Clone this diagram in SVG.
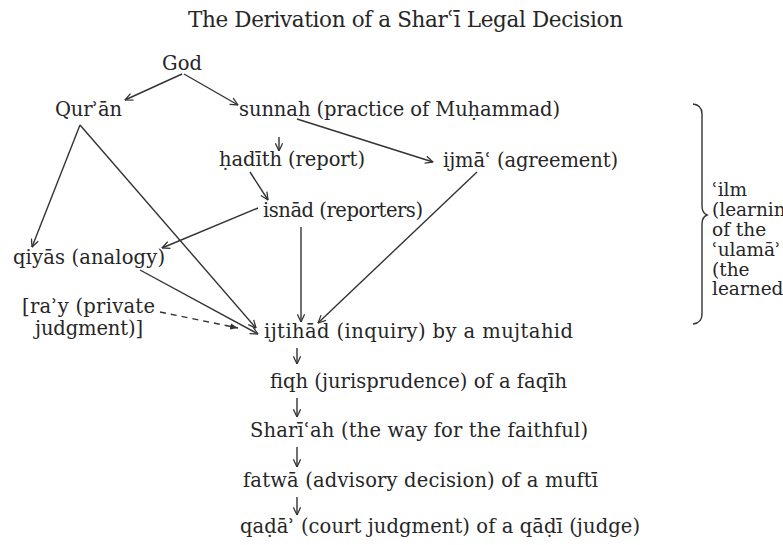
<svg xmlns="http://www.w3.org/2000/svg" width="783" height="545" viewBox="0 0 783 545">
<style>
text{font-family:"DejaVu Serif","Liberation Serif",serif;font-size:19.5px;fill:#262626}
.t{font-size:21.5px}
.s{font-size:18.5px}
.c{fill:none;stroke:#333;stroke-width:1.4}
.d{stroke-dasharray:6 5}
</style>
<defs>
<marker id="a" viewBox="0 0 10 10" refX="9.5" refY="5" markerWidth="9" markerHeight="9" markerUnits="userSpaceOnUse" orient="auto"><path d="M1,1 L9.5,5 L1,9" fill="none" stroke="#333" stroke-width="1.4"/></marker>
<marker id="f" viewBox="0 0 10 10" refX="10" refY="5" markerWidth="8" markerHeight="8" markerUnits="userSpaceOnUse" orient="auto"><path d="M0,1 L10,5 L0,9 Z" fill="#333"/></marker>
</defs>
<rect width="783" height="545" fill="#fff"/>
<text class="t" x="188" y="27" textLength="435">The Derivation of a Sharʿī Legal Decision</text>
<g id="god"><text x="162" y="70" textLength="40">God</text></g>
<g id="quran"><text x="55" y="116" textLength="67">Qurʾān</text></g>
<g id="sunnah"><text x="239" y="116" textLength="321">sunnah (practice of Muḥammad)</text></g>
<g id="hadith"><text x="219" y="166" textLength="146">ḥadīth (report)</text></g>
<g id="ijma"><text x="443" y="167" textLength="175">ijmāʿ (agreement)</text></g>
<g id="isnad"><text x="263" y="217" textLength="160">isnād (reporters)</text></g>
<g id="qiyas"><text x="13" y="264" textLength="152">qiyās (analogy)</text></g>
<g id="ray"><text x="22" y="313" textLength="133">[raʾy (private</text><text x="35" y="335" textLength="108">judgment)]</text></g>
<g id="ijtihad"><text x="264" y="338" textLength="309">ijtihād (inquiry) by a mujtahid</text></g>
<g id="fiqh"><text x="270" y="388" textLength="297">fiqh (jurisprudence) of a faqīh</text></g>
<g id="shariah"><text x="250" y="437" textLength="338">Sharīʿah (the way for the faithful)</text></g>
<g id="fatwa"><text x="243" y="487" textLength="355">fatwā (advisory decision) of a muftī</text></g>
<g id="qada"><text x="240" y="533" textLength="400">qaḍāʾ (court judgment) of a qāḍī (judge)</text></g>
<g id="ilm">
<path class="c" d="M693,104 Q702,105 702,114 L702,206 Q702,213 707,215 Q702,217 702,224 L702,314 Q702,323 693,324"/>
<text class="s" x="712" y="196">ʿilm</text>
<text class="s" x="712" y="216">(learning)</text>
<text class="s" x="712" y="236">of the</text>
<text class="s" x="712" y="256">ʿulamāʾ</text>
<text class="s" x="712" y="276">(the</text>
<text class="s" x="712" y="295">learned)</text>
</g>
<g id="connectors">
<line class="c" x1="182" y1="74" x2="125" y2="100" marker-end="url(#a)"/>
<line class="c" x1="184" y1="74" x2="238" y2="105" marker-end="url(#a)"/>
<line class="c" x1="279" y1="137" x2="279" y2="151" marker-end="url(#a)"/>
<line class="c" x1="297" y1="119" x2="433" y2="162" marker-end="url(#a)"/>
<line class="c" x1="250" y1="172" x2="268" y2="200" marker-end="url(#a)"/>
<line class="c" x1="477" y1="172" x2="318" y2="323" marker-end="url(#a)"/>
<line class="c" x1="301" y1="227" x2="301" y2="322" marker-end="url(#a)"/>
<line class="c" x1="258" y1="208" x2="162" y2="248" marker-end="url(#a)"/>
<line class="c" x1="80" y1="125" x2="32" y2="247" marker-end="url(#a)"/>
<line class="c" x1="80" y1="125" x2="256" y2="328" marker-end="url(#a)"/>
<line class="c" x1="140" y1="270" x2="258" y2="334" marker-end="url(#a)"/>
<line class="c d" x1="160" y1="312" x2="238" y2="328" marker-end="url(#f)"/>
<line class="c" x1="297" y1="348" x2="297" y2="364" marker-end="url(#a)"/>
<line class="c" x1="297" y1="398" x2="297" y2="417" marker-end="url(#a)"/>
<line class="c" x1="297" y1="447" x2="297" y2="467" marker-end="url(#a)"/>
<line class="c" x1="297" y1="497" x2="297" y2="515" marker-end="url(#a)"/>
</g>
</svg>
